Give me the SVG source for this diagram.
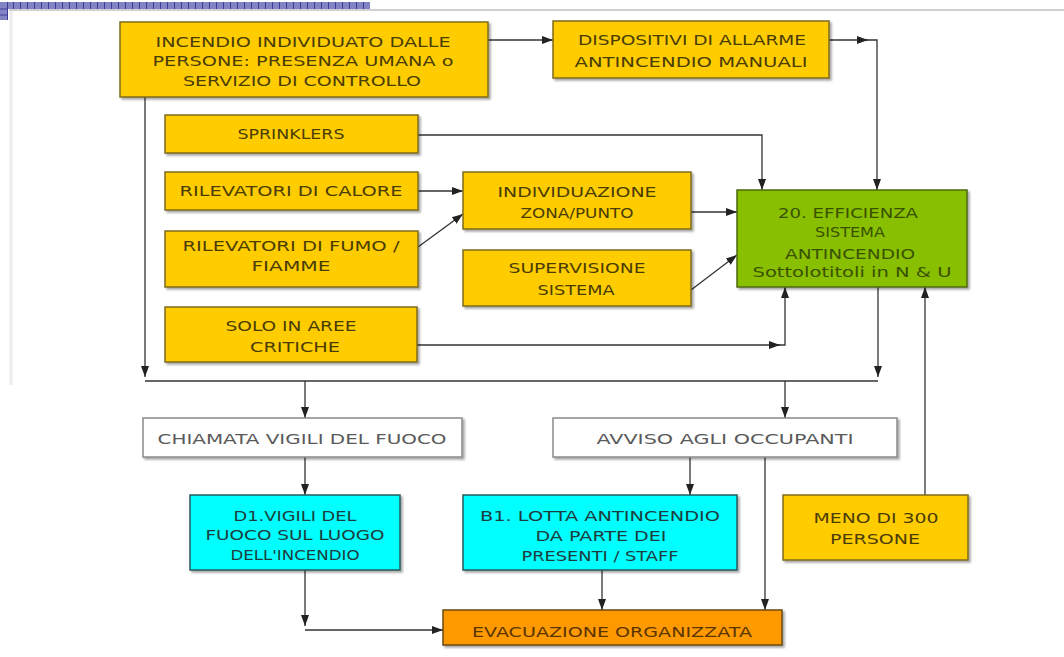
<svg xmlns="http://www.w3.org/2000/svg" width="1064" height="657" viewBox="0 0 1064 657">
<defs>
<marker id="ah" markerUnits="userSpaceOnUse" markerWidth="12" markerHeight="10" viewBox="0 0 12 10" refX="11" refY="5" orient="auto"><path d="M0,1 L11,5 L0,9 z" fill="#222"/></marker>
<filter id="sh" x="-5%" y="-5%" width="115%" height="125%"><feDropShadow dx="2" dy="2" stdDeviation="1" flood-color="#000" flood-opacity="0.35"/></filter>
<pattern id="grid" x="0" y="0" width="7" height="7" patternUnits="userSpaceOnUse"><rect width="7" height="7" fill="#8484c4"/><path d="M6.5,0 V7" stroke="#3c3c98" stroke-width="1"/></pattern>
<style>
.t{font-family:"DejaVu Sans","Liberation Sans",sans-serif;font-size:14px;text-anchor:middle}
.y{fill:#ffcc00;stroke:#7d6a1c;stroke-width:1.5;filter:url(#sh)}
.g{fill:#88bf00;stroke:#4d6a10;stroke-width:1.5;filter:url(#sh)}
.c{fill:#00ffff;stroke:#2a5a5a;stroke-width:1.5;filter:url(#sh)}
.o{fill:#ff9900;stroke:#6a4a10;stroke-width:1.5;filter:url(#sh)}
.w{fill:#ffffff;stroke:#8a8a8a;stroke-width:1.5;filter:url(#sh)}
.ty{fill:#4a3c05}
.tg{fill:#3a5200}
.tc{fill:#1e3c3c}
.tw{fill:#5a5a5a}
.to{fill:#5a3500}
.ln{fill:none;stroke:#333;stroke-width:1.3}
</style>
</defs>
<rect width="1064" height="657" fill="#ffffff"/>
<g id="frame">
<rect x="0" y="2" width="370" height="7" fill="url(#grid)"/>
<rect x="0" y="2" width="8" height="18" fill="#8484c4"/>
<path d="M0,9 H8 M0,15 H8 M7.5,2 V20" stroke="#3c3c98" stroke-width="1"/>
<path d="M9,10 H1064" stroke="#d0d0d0" stroke-width="2"/>
<path d="M11,11 V385" stroke="#ececec" stroke-width="3"/>
</g>
<g id="connectors">
<path class="ln" d="M488,40 H553" marker-end="url(#ah)"/>
<path class="ln" d="M829,40 H868" marker-end="url(#ah)"/>
<path class="ln" d="M866,40 H877 V190" marker-end="url(#ah)"/>
<path class="ln" d="M418,135 H762 V190" marker-end="url(#ah)"/>
<path class="ln" d="M418,191 H463" marker-end="url(#ah)"/>
<path class="ln" d="M418,247 L463,214" marker-end="url(#ah)"/>
<path class="ln" d="M691,212 H737" marker-end="url(#ah)"/>
<path class="ln" d="M691,290 L737,255" marker-end="url(#ah)"/>
<path class="ln" d="M417,345 H780" marker-end="url(#ah)"/>
<path class="ln" d="M778,345 H785 V287" marker-end="url(#ah)"/>
<path class="ln" d="M145,97 V377" marker-end="url(#ah)"/>
<path class="ln" d="M145,381 H878"/>
<path class="ln" d="M878,287 V377" marker-end="url(#ah)"/>
<path class="ln" d="M305,381 V418" marker-end="url(#ah)"/>
<path class="ln" d="M785,381 V418" marker-end="url(#ah)"/>
<path class="ln" d="M925,495 V287" marker-end="url(#ah)"/>
<path class="ln" d="M305,457 V495" marker-end="url(#ah)"/>
<path class="ln" d="M690,457 V495" marker-end="url(#ah)"/>
<path class="ln" d="M765,457 V610" marker-end="url(#ah)"/>
<path class="ln" d="M602,570 V610" marker-end="url(#ah)"/>
<path class="ln" d="M305,570 V626" marker-end="url(#ah)"/>
<path class="ln" d="M305,630 H443" marker-end="url(#ah)"/>
</g>
<g id="n_incendio">
<rect class="y" x="120" y="22" width="368" height="75"/>
<text class="t ty" x="303" y="47" textLength="295" lengthAdjust="spacingAndGlyphs">INCENDIO INDIVIDUATO DALLE</text>
<text class="t ty" x="303" y="66" textLength="301" lengthAdjust="spacingAndGlyphs">PERSONE: PRESENZA UMANA o</text>
<text class="t ty" x="302" y="86" textLength="238" lengthAdjust="spacingAndGlyphs">SERVIZIO DI CONTROLLO</text>
</g>
<g id="n_dispositivi">
<rect class="y" x="553" y="21" width="276" height="57"/>
<text class="t ty" x="692" y="45" textLength="228" lengthAdjust="spacingAndGlyphs">DISPOSITIVI DI ALLARME</text>
<text class="t ty" x="691" y="67" textLength="233" lengthAdjust="spacingAndGlyphs">ANTINCENDIO MANUALI</text>
</g>
<g id="n_sprinklers">
<rect class="y" x="165" y="115" width="253" height="38"/>
<text class="t ty" x="291" y="139" textLength="107" lengthAdjust="spacingAndGlyphs">SPRINKLERS</text>
</g>
<g id="n_calore">
<rect class="y" x="165" y="172" width="253" height="38"/>
<text class="t ty" x="291" y="196" textLength="223" lengthAdjust="spacingAndGlyphs">RILEVATORI DI CALORE</text>
</g>
<g id="n_fumo">
<rect class="y" x="165" y="231" width="253" height="56"/>
<text class="t ty" x="291" y="251" textLength="217" lengthAdjust="spacingAndGlyphs">RILEVATORI DI FUMO /</text>
<text class="t ty" x="291" y="271" textLength="79" lengthAdjust="spacingAndGlyphs">FIAMME</text>
</g>
<g id="n_individuazione">
<rect class="y" x="463" y="172" width="228" height="57"/>
<text class="t ty" x="577" y="197" textLength="159" lengthAdjust="spacingAndGlyphs">INDIVIDUAZIONE</text>
<text class="t ty" x="577" y="218" textLength="113" lengthAdjust="spacingAndGlyphs">ZONA/PUNTO</text>
</g>
<g id="n_supervisione">
<rect class="y" x="463" y="250" width="228" height="56"/>
<text class="t ty" x="577" y="273" textLength="137" lengthAdjust="spacingAndGlyphs">SUPERVISIONE</text>
<text class="t ty" x="576" y="295" textLength="77" lengthAdjust="spacingAndGlyphs">SISTEMA</text>
</g>
<g id="n_efficienza">
<rect class="g" x="737" y="190" width="230" height="97"/>
<text class="t tg" x="848" y="218" textLength="140" lengthAdjust="spacingAndGlyphs">20. EFFICIENZA</text>
<text class="t tg" x="850" y="237" textLength="70" lengthAdjust="spacingAndGlyphs">SISTEMA</text>
<text class="t tg" x="850" y="259" textLength="130" lengthAdjust="spacingAndGlyphs">ANTINCENDIO</text>
<text class="t tg" x="852" y="277" textLength="199" lengthAdjust="spacingAndGlyphs">Sottolotitoli in N &amp; U</text>
</g>
<g id="n_solo">
<rect class="y" x="165" y="307" width="252" height="55"/>
<text class="t ty" x="291" y="331" textLength="131" lengthAdjust="spacingAndGlyphs">SOLO IN AREE</text>
<text class="t ty" x="295" y="352" textLength="90" lengthAdjust="spacingAndGlyphs">CRITICHE</text>
</g>
<g id="n_chiamata">
<rect class="w" x="143" y="418" width="319" height="39"/>
<text class="t tw" x="302" y="444" textLength="289" lengthAdjust="spacingAndGlyphs">CHIAMATA VIGILI DEL FUOCO</text>
</g>
<g id="n_avviso">
<rect class="w" x="553" y="418" width="344" height="39"/>
<text class="t tw" x="725" y="444" textLength="257" lengthAdjust="spacingAndGlyphs">AVVISO AGLI OCCUPANTI</text>
</g>
<g id="n_d1">
<rect class="c" x="190" y="495" width="210" height="75"/>
<text class="t tc" x="295" y="521" textLength="123" lengthAdjust="spacingAndGlyphs">D1.VIGILI DEL</text>
<text class="t tc" x="295" y="540" textLength="179" lengthAdjust="spacingAndGlyphs">FUOCO SUL LUOGO</text>
<text class="t tc" x="295" y="560" textLength="129" lengthAdjust="spacingAndGlyphs">DELL'INCENDIO</text>
</g>
<g id="n_b1">
<rect class="c" x="463" y="495" width="274" height="75"/>
<text class="t tc" x="600" y="521" textLength="240" lengthAdjust="spacingAndGlyphs">B1. LOTTA ANTINCENDIO</text>
<text class="t tc" x="601" y="541" textLength="131" lengthAdjust="spacingAndGlyphs">DA PARTE DEI</text>
<text class="t tc" x="600" y="561" textLength="157" lengthAdjust="spacingAndGlyphs">PRESENTI / STAFF</text>
</g>
<g id="n_meno">
<rect class="y" x="783" y="495" width="185" height="65"/>
<text class="t ty" x="876" y="523" textLength="125" lengthAdjust="spacingAndGlyphs">MENO DI 300</text>
<text class="t ty" x="875" y="544" textLength="90" lengthAdjust="spacingAndGlyphs">PERSONE</text>
</g>
<g id="n_evacuazione">
<rect class="o" x="443" y="610" width="339" height="35"/>
<text class="t to" x="612" y="637" textLength="280" lengthAdjust="spacingAndGlyphs">EVACUAZIONE ORGANIZZATA</text>
</g>
</svg>
